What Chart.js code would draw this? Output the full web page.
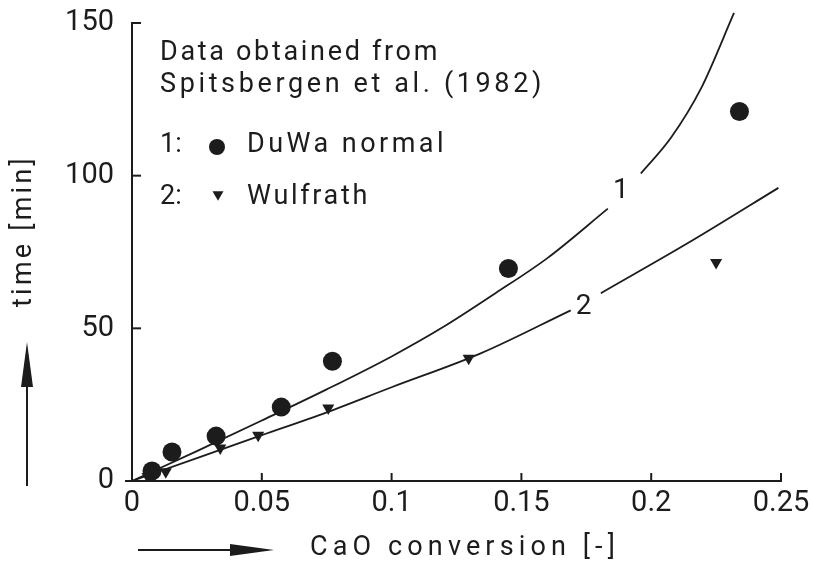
<!DOCTYPE html>
<html>
<head>
<meta charset="utf-8">
<script src="https://cdn.jsdelivr.net/npm/chart.js@4"></script>
<style>
  html, body { margin: 0; padding: 0; background: #ffffff; }
  #wrap { width: 813px; height: 565px; }
</style>
</head>
<body>
<div id="wrap"><canvas id="chart" width="813" height="565"></canvas></div>
<script>
// Measured points: CaO conversion [-] vs. time [min]
const conversionDuWa = [0.0077, 0.0154, 0.0324, 0.0575, 0.0772, 0.145, 0.234];
const timeDuWa = [3.3, 9.5, 14.7, 24.2, 39.2, 69.6, 121];
const conversionWulfrath = [0.006, 0.013, 0.034, 0.0486, 0.0756, 0.1297, 0.225];
const timeWulfrath = [1.5, 3, 10.8, 15, 23.9, 40.2, 71.6];

// Model curves (null leaves a gap where the curve number sits)
const curve1Conversion = [0, 0.025, 0.05, 0.075, 0.1, 0.12, 0.14, 0.16, 0.1833, 0.189, 0.196, 0.2076, 0.2191, 0.2319];
const curve1Time = [0, 9.8, 19.8, 30, 40.8, 50.5, 61.5, 73, 89.2, null, 100.7, 112.4, 128.4, 153.3];
const curve2Conversion = [0, 0.025, 0.05, 0.075, 0.1, 0.1343, 0.169, 0.175, 0.1806, 0.2153, 0.249];
const curve2Time = [0, 7.5, 15, 22.5, 30.7, 41.8, 55.9, null, 61.5, 78.5, 96];

// Curve numbers placed on the curves
const curveLabels = ['1', '2'];
const curveLabelConversion = [0.1883, 0.174];
const curveLabelTime = [95, 57];

// Axis ticks
const xTickValues = [0, 0.05, 0.1, 0.15, 0.2, 0.25];
const xTickLabels = ['0', '0.05', '0.1', '0.15', '0.2', '0.25'];
const yTickLabels = ['0', '50', '100', '150'];

// Key text
const noteLines = ['Data obtained from', 'Spitsbergen et al. (1982)'];
const seriesNumbers = ['1:', '2:'];
const seriesNames = ['DuWa normal', 'Wulfrath'];
const xTitle = 'CaO conversion [-]';
const yTitle = 'time [min]';

const INK = '#1c1c1c';
const FONT = 'Roboto, "Noto Sans", sans-serif';

function pts(xs, ys) { return xs.map((x, i) => ({ x: x, y: ys[i] })); }

// Draw text stretched to a target width with letter spacing
function fitText(ctx, text, x, y, width, align) {
  ctx.save();
  ctx.letterSpacing = '0px';
  const w = ctx.measureText(text).width;
  const ls = text.length > 1 ? (width - w) / text.length : 0;
  ctx.letterSpacing = ls.toFixed(2) + 'px';
  ctx.textAlign = 'left';
  let sx = x;
  if (align === 'center') sx = x - width / 2;
  ctx.fillText(text, sx, y);
  ctx.restore();
}

function downTriangle(ctx, cx, cy, w) {
  const h = w * 0.85;
  ctx.beginPath();
  ctx.moveTo(cx - w / 2, cy - h / 2);
  ctx.lineTo(cx + w / 2, cy - h / 2);
  ctx.lineTo(cx, cy + h / 2);
  ctx.closePath();
  ctx.fill();
}

const decorations = {
  id: 'decorations',
  afterDraw(chart) {
    const ctx = chart.ctx;
    const xs = chart.scales.x, ys = chart.scales.y;
    const area = chart.chartArea;
    ctx.save();
    ctx.strokeStyle = INK;
    ctx.fillStyle = INK;
    ctx.lineWidth = 2;

    // inward tick marks
    xs.ticks.forEach(t => {
      const px = xs.getPixelForValue(t.value);
      ctx.beginPath(); ctx.moveTo(px, area.bottom); ctx.lineTo(px, area.bottom - 8); ctx.stroke();
    });
    ys.ticks.forEach(t => {
      const py = ys.getPixelForValue(t.value);
      ctx.beginPath(); ctx.moveTo(area.left, py); ctx.lineTo(area.left + 9, py); ctx.stroke();
    });
    // short overhang of the x axis to the left of the origin
    ctx.beginPath(); ctx.moveTo(area.left - 7, area.bottom); ctx.lineTo(area.left, area.bottom); ctx.stroke();

    // direction arrows
    ctx.lineWidth = 2;
    ctx.beginPath(); ctx.moveTo(27, 486); ctx.lineTo(27, 380); ctx.stroke();
    ctx.beginPath(); ctx.moveTo(27, 342); ctx.lineTo(33, 387); ctx.lineTo(21, 387); ctx.closePath(); ctx.fill();
    ctx.beginPath(); ctx.moveTo(138, 550); ctx.lineTo(240, 550); ctx.stroke();
    ctx.beginPath(); ctx.moveTo(274, 550); ctx.lineTo(230, 544); ctx.lineTo(230, 556); ctx.closePath(); ctx.fill();

    // axis titles
    ctx.font = '27px ' + FONT;
    ctx.textBaseline = 'middle';
    fitText(ctx, xTitle, 465, 548, 310, 'center');
    ctx.save();
    ctx.translate(24, 231);
    ctx.rotate(-Math.PI / 2);
    fitText(ctx, yTitle, 0, 0, 152, 'center');
    ctx.restore();

    // key
    ctx.font = '27px ' + FONT;
    fitText(ctx, noteLines[0], 160, 53, 280, 'left');
    fitText(ctx, noteLines[1], 160, 85, 385, 'left');
    fitText(ctx, seriesNumbers[0], 160, 145, 22, 'left');
    fitText(ctx, seriesNumbers[1], 160, 197, 22, 'left');
    fitText(ctx, seriesNames[0], 247, 145, 200, 'left');
    fitText(ctx, seriesNames[1], 247, 197, 123, 'left');
    ctx.beginPath(); ctx.arc(217, 147, 8, 0, Math.PI * 2); ctx.fill();
    downTriangle(ctx, 218, 196, 11);

    // curve numbers
    ctx.font = '28px ' + FONT;
    curveLabels.forEach((lab, i) => {
      const px = xs.getPixelForValue(curveLabelConversion[i]);
      const py = ys.getPixelForValue(curveLabelTime[i]);
      ctx.textAlign = 'center';
      ctx.fillText(lab, px, py);
    });
    ctx.restore();
  }
};

const curveStyle = {
  showLine: true,
  pointRadius: 0,
  borderColor: INK,
  borderWidth: 1.8,
  cubicInterpolationMode: 'monotone',
  spanGaps: false,
  clip: false,
  order: 2
};

new Chart(document.getElementById('chart'), {
  type: 'scatter',
  data: {
    datasets: [
      Object.assign({ label: 'Curve 1', data: pts(curve1Conversion, curve1Time) }, curveStyle),
      Object.assign({ label: 'Curve 2', data: pts(curve2Conversion, curve2Time) }, curveStyle),
      {
        label: 'DuWa normal',
        data: pts(conversionDuWa, timeDuWa),
        pointStyle: 'circle',
        pointRadius: 9.5,
        backgroundColor: INK,
        borderColor: INK,
        borderWidth: 0,
        order: 1
      },
      {
        label: 'Wulfrath',
        data: pts(conversionWulfrath, timeWulfrath),
        pointStyle: 'triangle',
        rotation: 180,
        pointRadius: 7,
        backgroundColor: INK,
        borderColor: INK,
        borderWidth: 0,
        order: 1
      }
    ]
  },
  options: {
    responsive: false,
    animation: false,
    events: [],
    layout: { padding: { top: 23, right: 32, left: 0, bottom: 0 }, autoPadding: false },
    plugins: { legend: { display: false }, tooltip: { enabled: false } },
    scales: {
      x: {
        type: 'linear',
        min: 0,
        max: 0.25,
        afterBuildTicks(scale) { scale.ticks = xTickValues.map(v => ({ value: v })); },
        afterFit(scale) {
          scale.height = 84;
          scale.paddingLeft = 0; scale.paddingRight = 0;
        },
        grid: { display: false, drawTicks: false },
        border: { display: true, color: INK, width: 2 },
        ticks: {
          padding: 5,
          color: INK,
          font: { family: FONT, size: 29 },
          maxRotation: 0,
          autoSkip: false,
          callback: (v, i) => xTickLabels[i]
        }
      },
      y: {
        type: 'linear',
        min: 0,
        max: 150,
        afterFit(scale) {
          scale.width = 132;
          scale.paddingTop = 0; scale.paddingBottom = 0;
        },
        grid: { display: false, drawTicks: false },
        border: { display: true, color: INK, width: 2 },
        ticks: {
          stepSize: 50,
          padding: 18,
          color: INK,
          font: { family: FONT, size: 29 },
          callback: (v, i) => yTickLabels[i]
        }
      }
    }
  },
  plugins: [decorations]
});
</script>
</body>
</html>
